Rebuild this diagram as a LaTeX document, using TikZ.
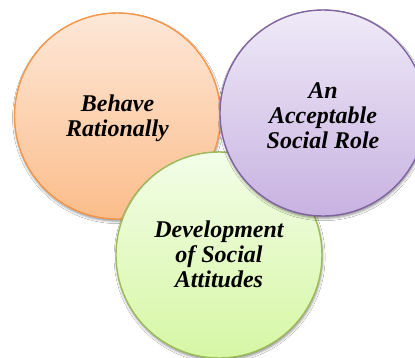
\documentclass[tikz,border=0pt]{standalone}
\usepackage{fontspec}
\setmainfont{Liberation Serif}
\usetikzlibrary{shadows.blur}

% fills and outlines of the three circles
\definecolor{orangeTop}{HTML}{FDE8D8}
\definecolor{orangeBot}{HTML}{FCBD8B}
\definecolor{orangeLine}{HTML}{F79646}
\definecolor{violetTop}{HTML}{EFEAF8}
\definecolor{violetBot}{HTML}{C8B2E1}
\definecolor{violetLine}{HTML}{8064A2}
\definecolor{greenTop}{HTML}{F3FDE8}
\definecolor{greenBot}{HTML}{D6F7A4}
\definecolor{greenLine}{HTML}{9BBB59}

\tikzset{
  bubble/.style={circle, minimum size=206bp, inner sep=0pt, line width=1.4bp,
    blur shadow={shadow xshift=0.6bp, shadow yshift=-2.2bp,
      shadow blur radius=2.5bp, shadow opacity=45}},
  bubbletext/.style={align=center, text=black, inner sep=0pt,
    font=\bfseries\itshape\fontsize{24bp}{25bp}\selectfont},
  orangebubble/.style={bubble, draw=orangeLine, top color=orangeTop, bottom color=orangeBot},
  violetbubble/.style={bubble, draw=violetLine, top color=violetTop, bottom color=violetBot},
  greenbubble/.style={bubble, draw=greenLine, top color=greenTop, bottom color=greenBot}
}

\begin{document}
\begin{tikzpicture}[x=1bp,y=-1bp]
  \useasboundingbox (0,0) rectangle (415,358);
  \fill[white] (0,0) rectangle (415,358);
  \begin{scope}
    \clip (0,0) rectangle (415,358);
    % circles, back to front
    \node[orangebubble] (rational) at (117.5,116) {};
    \node[bubbletext] (rationaltext) at ([yshift=-2bp]rational.center) {Behave\\Rationally};
    \node[greenbubble]  (attitudes) at (219,255) {};
    \node[bubbletext] (attitudestext) at ([yshift=0.5bp]attitudes.center) {Development\\of Social\\Attitudes};
    \node[violetbubble] (role) at (323,113) {};
    \node[bubbletext] (roletext) at ([yshift=-2.5bp]role.center) {An\\Acceptable\\Social Role};
  \end{scope}
\end{tikzpicture}
\end{document}
